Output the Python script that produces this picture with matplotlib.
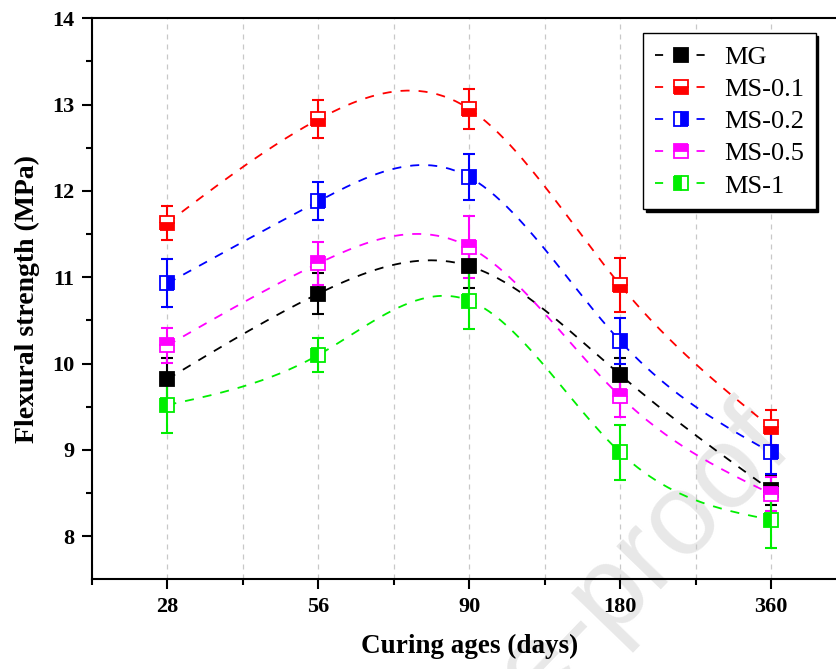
import matplotlib
matplotlib.use('Agg')
import matplotlib.pyplot as plt
import numpy as np
from matplotlib.lines import Line2D

# data
ages = ['28', '56', '90', '180', '360']
labels = ['MG', 'MS-0.1', 'MS-0.2', 'MS-0.5', 'MS-1']
mg = [9.82, 10.81, 11.13, 9.87, 8.53]
ms01 = [11.63, 12.83, 12.95, 10.91, 9.26]
ms02 = [10.93, 11.88, 12.16, 10.26, 8.97]
ms05 = [10.21, 11.16, 11.35, 9.62, 8.49]
ms1 = [9.52, 10.10, 10.73, 8.97, 8.19]
mg_err = [0.25, 0.24, 0.25, 0.20, 0.17]
ms01_err = [0.20, 0.22, 0.23, 0.31, 0.20]
ms02_err = [0.28, 0.22, 0.27, 0.27, 0.25]
ms05_err = [0.20, 0.25, 0.36, 0.24, 0.20]
ms1_err = [0.33, 0.20, 0.33, 0.32, 0.33]

colors = ['black', '#ff0000', '#0000ff', '#ff00ff', '#00ee00']
fills = ['full', 'bottom', 'right', 'top', 'left']


def spline(x, y, xs):
    # natural cubic spline, like Origin's spline connector
    x = np.asarray(x, float)
    y = np.asarray(y, float)
    n = len(x)
    h = np.diff(x)
    A = np.zeros((n, n))
    b = np.zeros(n)
    A[0, 0] = A[-1, -1] = 1
    for i in range(1, n - 1):
        A[i, i - 1] = h[i - 1]
        A[i, i] = 2 * (h[i - 1] + h[i])
        A[i, i + 1] = h[i]
        b[i] = 3 * ((y[i + 1] - y[i]) / h[i] - (y[i] - y[i - 1]) / h[i - 1])
    c = np.linalg.solve(A, b)
    out = np.empty_like(xs)
    for k, t in enumerate(xs):
        i = min(np.searchsorted(x, t) - 1, n - 2)
        i = max(i, 0)
        bb = (y[i + 1] - y[i]) / h[i] - h[i] * (2 * c[i] + c[i + 1]) / 3
        d = (c[i + 1] - c[i]) / (3 * h[i])
        dt = t - x[i]
        out[k] = y[i] + bb * dt + c[i] * dt ** 2 + d * dt ** 3
    return out


plt.rcParams['font.family'] = ['Liberation Serif', 'DejaVu Serif']

fig = plt.figure(figsize=(8.36, 6.69), dpi=100)
ax = fig.add_axes([0.110, 0.134, 0.9026, 0.8386])

# faint watermark, behind everything
fig.text(0.952, 0.327, 'Journal Pre-proof', family='Liberation Sans', fontsize=84,
         color='#e8e8e8', rotation=46, rotation_mode='anchor', ha='right',
         va='baseline', zorder=-1)
ax.patch.set_alpha(0)

x = np.arange(1, 6)
xs = np.linspace(1, 5, 200)
series = [mg, ms01, ms02, ms05, ms1]
errs = [mg_err, ms01_err, ms02_err, ms05_err, ms1_err]

handles = []
for y, e, c, f, lab in zip(series, errs, colors, fills, labels):
    ax.plot(xs, spline(x, y, xs), color=c, lw=1.3, ls=(0, (5, 5)), zorder=2)
    ax.errorbar(x, y, yerr=e, fmt='none', ecolor=c, elinewidth=1.5,
                capsize=4.4, capthick=1.5, zorder=3)
    ax.plot(x, y, ls='none', marker='s', ms=10.5, mew=1.3, color=c, mec=c,
            fillstyle=f, markerfacecoloralt='white', zorder=4)
    handles.append(Line2D([], [], color=c, lw=1.3, ls=(0, (4.5, 7)), marker='s',
                          ms=10.5, mew=1.3, mec=c, fillstyle=f,
                          markerfacecoloralt='white'))

ax.set_xlim(0.5, 5.5)
ax.set_ylim(7.5, 14)
ax.set_xticks(x)
ax.set_xticklabels(ages)
ax.set_xticks(np.arange(0.5, 5.6, 1), minor=True)
ax.set_yticks(np.arange(8, 14.1, 1))
ax.set_yticks(np.arange(8.5, 14, 1), minor=True)

ax.grid(True, which='both', axis='x', color='#c8c8c8', ls=(0, (4, 4)), lw=0.9)
ax.set_axisbelow(True)

for s in ax.spines.values():
    s.set_linewidth(1.5)
ax.tick_params(which='major', length=7.5, width=1.5, pad=5, labelsize=16)
ax.tick_params(which='minor', length=4, width=1.5)
for t in ax.get_xticklabels() + ax.get_yticklabels():
    t.set_fontweight('bold')

ax.set_xlabel('Curing ages (days)', fontsize=19.5, fontweight='bold', labelpad=12)
ax.set_ylabel('Flexural strength (MPa)', fontsize=20, fontweight='bold', labelpad=9)

leg = ax.legend(handles, labels, loc='upper right', bbox_to_anchor=(0.959, 0.973),
                borderaxespad=0, fontsize=19, frameon=True, fancybox=False,
                edgecolor='black', handlelength=2.0, handletextpad=0.6,
                labelspacing=0.33, borderpad=0.45,
                shadow={'color': 'black', 'alpha': 1})
leg.get_frame().set_linewidth(1.0)

fig.savefig('out.png', dpi=100)
